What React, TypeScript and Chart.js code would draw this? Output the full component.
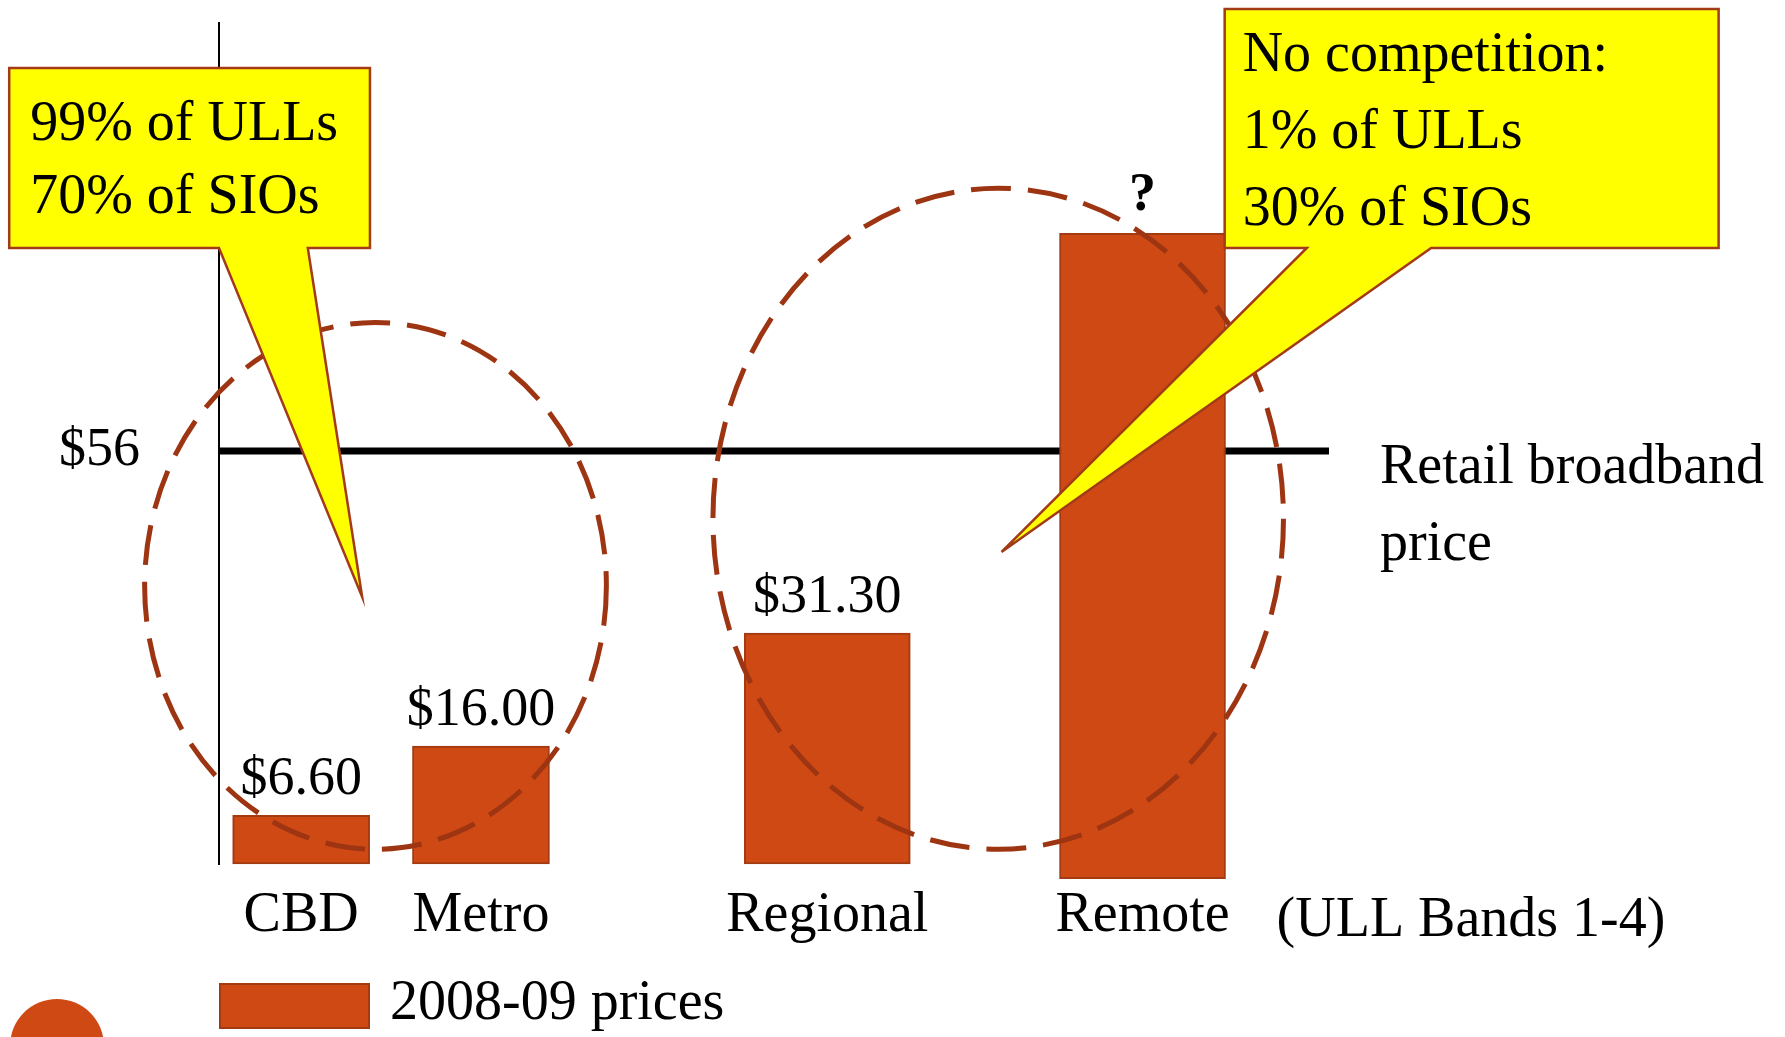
import { useEffect, useRef } from 'react';
import { Chart, registerables } from 'chart.js';

Chart.register(...registerables);

// ULL price bands and their monthly wholesale prices (2008-09)
const bands = ['CBD', 'Metro', 'Regional', 'Remote'];
const prices: (number | null)[] = [6.6, 16.0, 31.3, null];
// Remote band price is not published: bar shown as an open-ended range
const remoteRange = [-2, 85.5];
// Slot of each band along the horizontal axis (0–100)
const bandSlots = [7.4, 23.6, 54.8, 83.2];
const retailPrice = 56;

const seriesLabel = '2008-09 prices';
const axisCaption = '(ULL Bands 1-4)';
const retailLabel = ['Retail broadband', 'price'];
const urbanNote = ['99% of ULLs', '70% of SIOs'];
const ruralNote = ['No competition:', '1% of ULLs', '30% of SIOs'];

const FONT = '"Liberation Serif", "Times New Roman", serif';
const BAR = '#CF4914';
const BAR_EDGE = '#A23A12';
const RING = '#9E3512';
const NOTE_FILL = '#FFFF00';
const NOTE_EDGE = '#A33A18';

// Highlight rings and callouts, in axis units
const rings = [
  { cx: 14.1, cy: 37.7, rx: 20.8, ry: 35.7 },
  { cx: 70.2, cy: 46.8, rx: 25.7, ry: 44.8 },
];
const notes = [
  { lines: urbanNote, x0: -18.9, x1: 13.6, y0: 107.9, y1: 83.5, baseA: 0, baseB: 8.0, tipX: 12.9, tipY: 36.2, padX: 21, firstLine: 72, step: 73 },
  { lines: ruralNote, x0: 90.6, x1: 135.1, y0: 115.9, y1: 83.5, baseA: 98.0, baseB: 109.2, tipX: 70.5, tipY: 42.3, padX: 18, firstLine: 62, step: 77 },
];

const barText = prices.map((p) => (p == null ? '?' : `$${p.toFixed(2)}`));

const overlay = {
  id: 'overlay',
  beforeDatasetsDraw(chart: any) {
    const { ctx, chartArea, scales } = chart;
    const py = scales.y.getPixelForValue(retailPrice);
    ctx.save();
    ctx.strokeStyle = '#000';
    ctx.lineWidth = 7;
    ctx.beginPath();
    ctx.moveTo(chartArea.left, py);
    ctx.lineTo(chartArea.right, py);
    ctx.stroke();
    ctx.restore();
  },
  afterDraw(chart: any) {
    const { ctx, chartArea, scales } = chart;
    const X = (v: number) => scales.x.getPixelForValue(v);
    const Y = (v: number) => scales.y.getPixelForValue(v);
    ctx.save();

    // value labels above bars
    const bars = [
      ...chart.getDatasetMeta(0).data,
      ...chart.getDatasetMeta(1).data,
    ];
    ctx.fillStyle = '#000';
    ctx.textAlign = 'center';
    ctx.textBaseline = 'alphabetic';
    bars.forEach((el: any, i: number) => {
      const unknown = prices[i] == null;
      ctx.font = `${unknown ? 'bold ' : ''}54px ${FONT}`;
      ctx.fillText(barText[i], el.x, el.y - (unknown ? 23 : 21));
    });

    // dashed highlight rings
    ctx.strokeStyle = RING;
    ctx.lineWidth = 5;
    ctx.setLineDash([40, 17]);
    rings.forEach((r) => {
      const cx = X(r.cx);
      const cy = Y(r.cy);
      const rx = X(r.cx + r.rx) - cx;
      const ry = Y(0) - Y(r.ry);
      ctx.beginPath();
      ctx.ellipse(cx, cy, rx, ry, 0, 0, Math.PI * 2);
      ctx.stroke();
    });
    ctx.setLineDash([]);

    // callouts
    notes.forEach((n) => {
      const l = X(n.x0), r = X(n.x1), t = Y(n.y0), b = Y(n.y1);
      ctx.beginPath();
      ctx.moveTo(l, t);
      ctx.lineTo(r, t);
      ctx.lineTo(r, b);
      ctx.lineTo(X(n.baseB), b);
      ctx.lineTo(X(n.tipX), Y(n.tipY));
      ctx.lineTo(X(n.baseA), b);
      ctx.lineTo(l, b);
      ctx.closePath();
      ctx.fillStyle = NOTE_FILL;
      ctx.fill();
      ctx.strokeStyle = NOTE_EDGE;
      ctx.lineWidth = 2.5;
      ctx.lineJoin = 'miter';
      ctx.stroke();
      ctx.fillStyle = '#000';
      ctx.textAlign = 'left';
      ctx.font = `56px ${FONT}`;
      n.lines.forEach((s, k) => ctx.fillText(s, l + n.padX, t + n.firstLine + k * n.step));
    });

    // retail price caption
    ctx.fillStyle = '#000';
    ctx.textAlign = 'left';
    ctx.font = `56px ${FONT}`;
    const ry = Y(retailPrice);
    ctx.fillText(retailLabel[0], chartArea.right + 51, ry + 32);
    ctx.fillText(retailLabel[1], chartArea.right + 51, ry + 109);

    // axis caption after the band names
    ctx.textAlign = 'center';
    ctx.fillText(axisCaption, chartArea.right + 142, chartArea.bottom + 72);

    // legend
    const lx = chartArea.left + 1;
    const ly = chartArea.bottom + 120;
    ctx.fillStyle = BAR;
    ctx.fillRect(lx, ly, 149, 44);
    ctx.strokeStyle = BAR_EDGE;
    ctx.lineWidth = 2;
    ctx.strokeRect(lx, ly, 149, 44);
    ctx.fillStyle = '#000';
    ctx.textAlign = 'left';
    ctx.fillText(seriesLabel, chartArea.left + 171, chartArea.bottom + 155);

    // page badge, bottom left
    ctx.fillStyle = BAR;
    ctx.beginPath();
    ctx.arc(57, chart.height + 9, 47, 0, Math.PI * 2);
    ctx.fill();

    ctx.restore();
  },
};

export default function App() {
  const ref = useRef<HTMLCanvasElement>(null);

  useEffect(() => {
    document.body.style.margin = '0';
    const canvas = ref.current;
    if (!canvas) return;

    const narrow = [0, 1].map((i) => ({ x: bandSlots[i], y: [0, prices[i] as number] }));
    const wide = [
      { x: bandSlots[2], y: [0, prices[2] as number] },
      { x: bandSlots[3], y: remoteRange },
    ];
    const barStyle = {
      backgroundColor: BAR,
      borderColor: BAR_EDGE,
      borderWidth: 2,
      borderSkipped: false,
      grouped: false,
      clip: false as const,
    };

    const chart = new Chart(canvas, {
      type: 'bar',
      data: {
        datasets: [
          { label: seriesLabel, data: narrow as any, barThickness: 137, ...barStyle },
          { label: seriesLabel, data: wide as any, barThickness: 166, ...barStyle },
        ],
      },
      options: {
        responsive: false,
        animation: false,
        devicePixelRatio: 1,
        layout: { padding: { top: 23, right: 456, bottom: 0, left: 0 } },
        plugins: { legend: { display: false }, tooltip: { enabled: false } },
        scales: {
          x: {
            type: 'linear',
            min: 0,
            max: 100,
            offset: false,
            grid: { display: false, drawTicks: false },
            border: { display: false },
            afterFit: (s: any) => {
              s.height = 173;
            },
            afterBuildTicks: (s: any) => {
              s.ticks = bandSlots.map((v) => ({ value: v }));
            },
            ticks: {
              autoSkip: false,
              maxRotation: 0,
              padding: 19,
              color: '#000',
              font: { family: FONT, size: 56 },
              callback: (_v: any, i: number) => bands[i],
            },
          },
          y: {
            min: 0,
            max: 114,
            grid: { display: false, drawTicks: false },
            border: { display: true, color: '#000', width: 2 },
            afterFit: (s: any) => {
              s.width = 219;
              s.paddingTop = 0;
              s.paddingBottom = 0;
            },
            afterBuildTicks: (s: any) => {
              s.ticks = [{ value: retailPrice }];
            },
            ticks: {
              padding: 79,
              color: '#000',
              font: { family: FONT, size: 54 },
              callback: (v: any) => `$${v}`,
            },
          },
        },
      },
      plugins: [overlay],
    });

    return () => chart.destroy();
  }, []);

  return (
    <div style={{ position: 'absolute', left: 0, top: 0, width: 1785, height: 1037, background: '#fff' }}>
      <canvas ref={ref} width={1785} height={1037} style={{ width: 1785, height: 1037, display: 'block' }} />
    </div>
  );
}
